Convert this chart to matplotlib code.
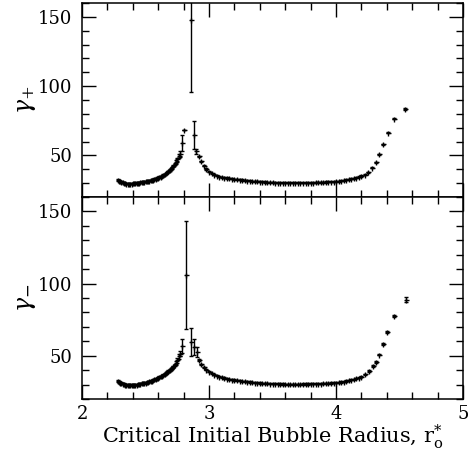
import matplotlib
matplotlib.use("Agg")
import matplotlib.pyplot as plt
from matplotlib.ticker import MultipleLocator

plt.rcParams['font.family'] = ['DejaVu Serif']
plt.rcParams['mathtext.fontset'] = 'dejavuserif'

# ---- shared x grids ----
x_left = [2.28, 2.29, 2.30, 2.31, 2.32, 2.33, 2.34, 2.35, 2.36, 2.37,
          2.38, 2.39, 2.40, 2.41, 2.42, 2.43, 2.44, 2.45, 2.46, 2.47,
          2.48, 2.49, 2.50, 2.51, 2.52, 2.53, 2.54, 2.55, 2.56, 2.57,
          2.58, 2.59, 2.60, 2.61, 2.62, 2.63, 2.64, 2.65, 2.66, 2.67,
          2.68, 2.69, 2.70, 2.71, 2.72, 2.73, 2.74, 2.75, 2.76, 2.77]
x_right = [2.92, 2.94, 2.96, 2.98, 3.00, 3.02, 3.04, 3.06, 3.08, 3.10,
           3.12, 3.14, 3.16, 3.18, 3.20, 3.22, 3.24, 3.26, 3.28, 3.30,
           3.32, 3.34, 3.36, 3.38, 3.40, 3.42, 3.44, 3.46, 3.48, 3.50,
           3.52, 3.54, 3.56, 3.58, 3.60, 3.62, 3.64, 3.66, 3.68, 3.70,
           3.72, 3.74, 3.76, 3.78, 3.80, 3.82, 3.84, 3.86, 3.88, 3.90,
           3.92, 3.94, 3.96, 3.98, 4.00, 4.02, 4.04, 4.06, 4.08, 4.10,
           4.12, 4.14, 4.16, 4.18, 4.20]

# ---- gamma_plus ----
gp_left = [32.3, 31.8, 31.3, 30.9, 30.5, 30.2, 29.9, 29.7, 29.6, 29.6,
           29.6, 29.7, 29.8, 29.9, 30.0, 30.1, 30.2, 30.4, 30.5, 30.7,
           30.8, 31.0, 31.2, 31.4, 31.6, 31.8, 32.0, 32.3, 32.6, 32.9,
           33.2, 33.6, 34.0, 34.4, 34.8, 35.3, 35.8, 36.4, 37.0, 37.7,
           38.5, 39.4, 40.4, 41.5, 42.7, 44.0, 45.6, 47.4, 49.3, 51.2]
gp_left_err = [0.5] * 45 + [0.7, 0.9, 1.1, 1.5, 2.0]
x_peak_p = [2.785, 2.805, 2.858, 2.884, 2.90]
gp_peak = [59.0, 68.0, 148.0, 65.0, 53.0]
gp_peak_err = [5.5, 0.0, 52.0, 10.0, 2.0]
gp_right = [49.5, 45.8, 42.6, 40.2, 38.4, 37.1, 36.1, 35.4, 34.8, 34.4,
            34.0, 33.7, 33.4, 33.1, 32.9, 32.7, 32.5, 32.3, 32.1, 31.9,
            31.7, 31.5, 31.3, 31.2, 31.0, 30.9, 30.8, 30.7, 30.6, 30.5,
            30.4, 30.4, 30.3, 30.3, 30.2, 30.2, 30.2, 30.2, 30.2, 30.2,
            30.2, 30.3, 30.3, 30.3, 30.4, 30.4, 30.5, 30.5, 30.6, 30.7,
            30.8, 30.9, 31.0, 31.1, 31.2, 31.4, 31.7, 32.0, 32.4, 32.8,
            33.2, 33.6, 34.0, 34.5, 35.2]
x_tail_p = [4.228, 4.255, 4.286, 4.313, 4.341, 4.372, 4.406, 4.453, 4.546]
gp_tail = [36.2, 38.0, 41.0, 45.0, 50.7, 58.0, 66.4, 76.5, 83.5]

# ---- gamma_minus ----
gm_left = [32.4, 31.9, 31.4, 31.0, 30.6, 30.3, 30.0, 29.8, 29.7, 29.6,
           29.6, 29.6, 29.7, 29.8, 29.9, 30.0, 30.2, 30.4, 30.6, 30.8,
           31.0, 31.2, 31.4, 31.6, 31.9, 32.2, 32.5, 32.8, 33.2, 33.6,
           34.0, 34.4, 34.8, 35.3, 35.8, 36.3, 36.8, 37.4, 38.0, 38.6,
           39.3, 40.0, 40.8, 41.6, 42.6, 43.8, 45.3, 47.2, 49.5, 51.5]
gm_left_err = [0.5] * 45 + [0.7, 0.9, 1.1, 1.5, 2.0]
x_peak_m = [2.79, 2.817, 2.858, 2.884, 2.908]
gm_peak = [57.0, 106.0, 59.5, 56.0, 52.3]
gm_peak_err = [4.8, 37.5, 9.5, 5.5, 3.5]
gm_right = [47.0, 44.2, 41.9, 40.2, 38.9, 37.8, 36.9, 36.2, 35.6, 35.1,
            34.6, 34.2, 33.8, 33.5, 33.2, 32.9, 32.6, 32.4, 32.2, 32.0,
            31.8, 31.6, 31.4, 31.3, 31.1, 31.0, 30.9, 30.8, 30.7, 30.6,
            30.5, 30.5, 30.4, 30.4, 30.3, 30.3, 30.3, 30.3, 30.3, 30.3,
            30.3, 30.4, 30.4, 30.4, 30.5, 30.5, 30.6, 30.6, 30.7, 30.8,
            30.9, 31.0, 31.1, 31.2, 31.3, 31.5, 31.8, 32.1, 32.5, 32.9,
            33.3, 33.8, 34.3, 34.9, 35.6]
x_tail_m = [4.228, 4.262, 4.289, 4.312, 4.341, 4.368, 4.40, 4.457, 4.549]
gm_tail = [37.1, 39.4, 43.0, 45.8, 50.7, 58.2, 66.4, 77.5, 88.7]
gm_tail_err = [0.5, 0.5, 0.5, 0.5, 0.5, 0.5, 0.6, 0.8, 1.8]

x_ticks = [2, 3, 4, 5]
y_ticks = [50, 100, 150]

fig = plt.figure(figsize=(4.73, 4.55), dpi=100)
ax1 = fig.add_axes([0.1734, 0.567, 0.8056, 0.4264])
ax2 = fig.add_axes([0.1734, 0.123, 0.8056, 0.444])

ekw = dict(fmt='+', color='black', ms=3.6, mew=1.0, elinewidth=1.0,
           capsize=1.7, capthick=1.0)


def draw(ax, segs):
    for xs, ys, es in segs:
        ax.errorbar(xs, ys, yerr=es, **ekw)


draw(ax1, [(x_left, gp_left, gp_left_err),
           (x_peak_p, gp_peak, gp_peak_err),
           (x_right, gp_right, [0.4] * len(x_right)),
           (x_tail_p, gp_tail, [0.4] * len(x_tail_p))])
draw(ax2, [(x_left, gm_left, gm_left_err),
           (x_peak_m, gm_peak, gm_peak_err),
           (x_right, gm_right, [0.4] * len(x_right)),
           (x_tail_m, gm_tail, gm_tail_err)])

for ax in (ax1, ax2):
    ax.set_xlim(2, 5)
    ax.set_ylim(20, 160)
    ax.set_xticks(x_ticks)
    ax.set_yticks(y_ticks)
    ax.xaxis.set_minor_locator(MultipleLocator(0.2))
    ax.yaxis.set_minor_locator(MultipleLocator(10))
    ax.tick_params(which='both', direction='in', top=True, right=True,
                   width=1.0, labelsize=13)
    ax.tick_params(which='major', length=10, pad=7)
    ax.tick_params(which='minor', length=5)
    ax.tick_params(axis='x', which='major', pad=4)
    for s in ax.spines.values():
        s.set_linewidth(1.1)

ax1.tick_params(labelbottom=False)
ax1.set_ylabel(r'$\gamma_{+}$', fontsize=17, labelpad=0)
ax2.set_ylabel(r'$\gamma_{-}$', fontsize=17, labelpad=0)
ax2.set_xlabel(r'Critical Initial Bubble Radius, r$_{\rm o}^{*}$',
               fontsize=15, labelpad=0)

fig.savefig('out.png', dpi=100)
